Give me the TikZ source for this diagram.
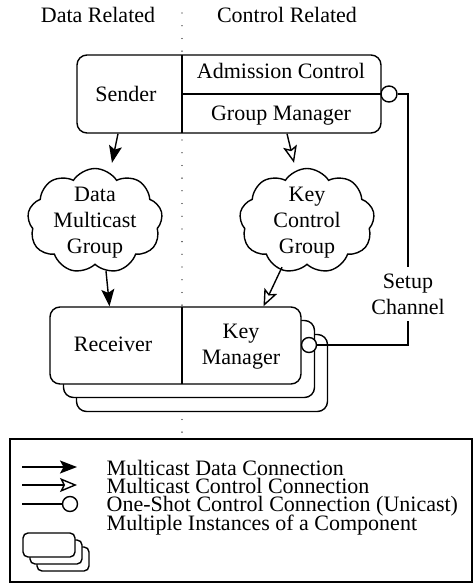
\documentclass[tikz,border=0pt]{standalone}
\usepackage{fontspec}
\setmainfont{Liberation Serif}
\usetikzlibrary{arrows.meta,shapes.symbols}
\begin{document}
\begin{tikzpicture}[x=1pt,y=-1pt,line width=1.4pt,
  lbl/.style={font=\fontsize{22}{26}\selectfont,inner sep=0pt,align=center},
  one/.style={lbl,anchor=base},
  box/.style={draw,fill=white,rounded corners=10pt,inner sep=0pt},
  smallbox/.style={draw,fill=white,rounded corners=5pt,inner sep=0pt,minimum width=52pt,minimum height=24pt},
  grp/.style={draw,cloud,cloud puffs=9,cloud puff arc=115,cloud ignores aspect,minimum width=135pt,minimum height=105pt,inner sep=0pt},
  ring/.style={draw,circle,fill=white,inner sep=0pt,minimum size=15pt},
  dataarrow/.style={-{Stealth[length=17pt,width=13pt,inset=3.5pt]}},
  ctrlarrow/.style={-{Stealth[open,length=17pt,width=14pt,inset=3.5pt]}},
  sep/.style={line width=1.3pt,line cap=round,dash pattern=on 0pt off 12.7pt}
]
\useasboundingbox (0,0) rectangle (474,584);
% separator
\draw[sep] (182,13) -- (182,434);
% headings
\node[one] (hd) at (98,22.5) {Data Related};
\node[one] (hc) at (287,22.5) {Control Related};
% sender
\node[box,minimum width=304pt,minimum height=78pt] (sender) at (229,94) {};
\draw (182,55) -- (182,133);
\draw (182,94) -- (381,94);
\node[one] (snd) at (126,101) {Sender};
\node[one] (adm) at (281,78.5) {Admission Control};
\node[one] (gm) at (281,120.5) {Group Manager};
\node[ring,minimum size=16pt] (cs) at (389,94) {};
% clouds
\node[grp] (dmg) at (95,221) {};
\node[lbl] at ([yshift=-2pt]dmg.center) {Data\\Multicast\\Group};
\node[grp] (kcg) at (307,221) {};
\node[lbl] at ([yshift=-2pt]kcg.center) {Key\\Control\\Group};
% receiver stack
\node[box,minimum width=251pt,minimum height=77pt] (r3) at (202,373) {};
\node[box,minimum width=251pt,minimum height=77pt] (r2) at (189,359) {};
\node[box,minimum width=251pt,minimum height=77pt] (recv) at (175.5,345.5) {};
\draw (182,307) -- (182,384);
\node[one] (rcv) at (113,351.5) {Receiver};
\node[lbl] (km) at (241,347) {Key\\Manager};
\node[ring] (cr) at (309,345) {};
% setup channel
\node[lbl,fill=white,inner xsep=2pt,inner ysep=6pt] (setup) at (408,294) {Setup\\Channel};
\draw (cs.east) -| (setup.north);
\draw (setup.south) |- (cr.east);
% arrows
\draw[dataarrow] ([xshift=-111pt]sender.south) -- ([shift={(17pt,5pt)}]dmg.north);
\draw[ctrlarrow] ([xshift=58pt]sender.south) -- ([shift={(-13pt,5pt)}]kcg.north);
\draw[dataarrow] ([shift={(11pt,-6pt)}]dmg.south) -- ([xshift=-66pt]recv.north);
\draw[ctrlarrow] ([shift={(-25pt,-2pt)}]kcg.south) -- ([xshift=88pt]recv.north);
% legend
\node[draw,minimum width=462pt,minimum height=143pt,inner sep=0pt] (legend) at (241,510.5) {};
\coordinate (la1) at (22,467); \coordinate (lb1) at (77,467);
\coordinate (la2) at (22,485); \coordinate (lb2) at (77,485);
\coordinate (la3) at (22,504);
\draw[dataarrow] (la1) -- (lb1);
\draw[ctrlarrow] (la2) -- (lb2);
\node[ring] (lc) at (70,504) {};
\draw (la3) -- (lc.west);
\node[smallbox] (i3) at (63,559) {};
\node[smallbox] (i2) at (56,552) {};
\node[smallbox] (i1) at (49,545) {};
\node[one,anchor=base west] (t1) at (106,475) {Multicast Data Connection};
\node[one,anchor=base west] (t2) at (106,493) {Multicast Control Connection};
\node[one,anchor=base west] (t3) at (106,511.5) {One-Shot Control Connection (Unicast)};
\node[one,anchor=base west] (t4) at (106,530) {Multiple Instances of a Component};
\end{tikzpicture}
\end{document}
